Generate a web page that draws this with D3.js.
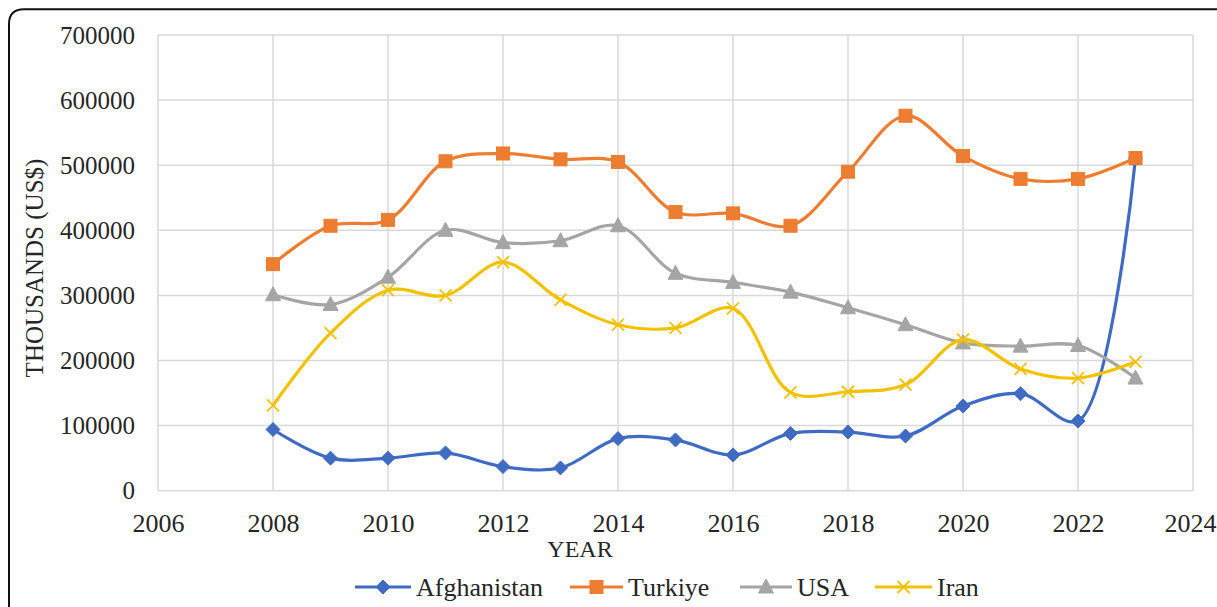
<!DOCTYPE html>
<html>
<head>
<meta charset="utf-8">
<script src="https://cdn.jsdelivr.net/npm/d3@7"></script>
<style>
  html, body { margin: 0; padding: 0; background: #fff; }
  svg { display: block; }
</style>
</head>
<body>
<svg id="chart" width="1217" height="607"></svg>
<script>
// Years on the x axis (2008–2023)
const years = [2008, 2009, 2010, 2011, 2012, 2013, 2014, 2015, 2016, 2017, 2018, 2019, 2020, 2021, 2022, 2023];

// Values in thousands of US$
const afghanistan = [94000, 50000, 50000, 58000, 37000, 35000, 80000, 78000, 55000, 88000, 90000, 84000, 130000, 149000, 107000, 511000];
const turkiye     = [348000, 407000, 416000, 506000, 518000, 509000, 505000, 428000, 426000, 407000, 490000, 576000, 514000, 479000, 479000, 511000];
const usa         = [301000, 286000, 328000, 400000, 381000, 384000, 407000, 334000, 320000, 305000, 281000, 255000, 227000, 222000, 223000, 173000];
const iran        = [131000, 242000, 308000, 300000, 351000, 293000, 255000, 250000, 280000, 151000, 152000, 163000, 232000, 187000, 173000, 198000];

const xTicks = [2006, 2008, 2010, 2012, 2014, 2016, 2018, 2020, 2022, 2024];
const yTicks = [0, 100000, 200000, 300000, 400000, 500000, 600000, 700000];

const seriesNames = ["Afghanistan", "Turkiye", "USA", "Iran"];
const seriesValues = [afghanistan, turkiye, usa, iran];
const seriesColors = ["#3F6BC2", "#ED7D31", "#A5A5A5", "#F2C200"];
const seriesMarkers = ["diamond", "square", "triangle", "cross"];

const FONT = "'Liberation Serif', 'Times New Roman', 'DejaVu Serif', serif";
const INK = "#262626";

const svg = d3.select("#chart");

const x = d3.scaleLinear().domain([2006, 2024]).range([158, 1193]);
const y = d3.scaleLinear().domain([0, 700000]).range([490.7, 35]);

function styleText(sel, size) {
  sel.attr("font-family", FONT)
    .style("font-family", FONT)
    .style("font-size", size + "px")
    .attr("fill", INK);
}

// Card outline: left and top edges with a rounded corner
svg.append("path")
  .attr("d", "M9,607 L9,24 Q9,9.3 24,9.3 L1217,9.3")
  .attr("fill", "none")
  .attr("stroke", "#111")
  .attr("stroke-width", 2);

// Gridlines
const grid = svg.append("g").attr("stroke", "#d9d9d9").attr("stroke-width", 1.5);
grid.selectAll("line.h").data(yTicks).join("line")
  .attr("x1", x(2006)).attr("x2", x(2024))
  .attr("y1", d => y(d)).attr("y2", d => y(d));
grid.selectAll("line.v").data(xTicks).join("line")
  .attr("y1", y(0)).attr("y2", y(700000))
  .attr("x1", d => x(d)).attr("x2", d => x(d));

// Y axis
const yAxis = svg.append("g")
  .attr("transform", `translate(${x(2006)},0)`)
  .call(d3.axisLeft(y).tickValues(yTicks).tickFormat(d3.format("d")).tickSize(0).tickPadding(23));
yAxis.attr("font-family", FONT);
yAxis.select(".domain").remove();
styleText(yAxis.selectAll("text"), 25);

// X axis
const xAxis = svg.append("g")
  .attr("transform", `translate(0,${y(0)})`)
  .call(d3.axisBottom(x).tickValues(xTicks).tickFormat(d3.format("d")).tickSize(0).tickPadding(23));
xAxis.attr("font-family", FONT);
xAxis.select(".domain").remove();
styleText(xAxis.selectAll("text"), 26);
// keep the last label inside the page edge
xAxis.selectAll(".tick").filter(d => d === 2024).select("text")
  .attr("text-anchor", "end").attr("x", 1216 - x(2024));

// Axis titles
styleText(svg.append("text")
  .attr("transform", "translate(43,268) rotate(-90)")
  .attr("text-anchor", "middle")
  .text("THOUSANDS (US$)"), 25);

styleText(svg.append("text")
  .attr("x", 580).attr("y", 557)
  .attr("text-anchor", "middle")
  .text("YEAR"), 24);

// Marker drawing
function drawMarker(g, type, color, cx, cy) {
  if (type === "diamond") {
    g.append("path").attr("d", `M${cx},${cy - 7} L${cx + 7},${cy} L${cx},${cy + 7} L${cx - 7},${cy} Z`)
      .attr("fill", color).attr("stroke", color).attr("stroke-width", 1);
  } else if (type === "square") {
    g.append("rect").attr("x", cx - 6.5).attr("y", cy - 6.5).attr("width", 13).attr("height", 13)
      .attr("fill", color).attr("stroke", color).attr("stroke-width", 1);
  } else if (type === "triangle") {
    g.append("path").attr("d", `M${cx},${cy - 8} L${cx + 7.5},${cy + 6} L${cx - 7.5},${cy + 6} Z`)
      .attr("fill", color).attr("stroke", color).attr("stroke-width", 1);
  } else {
    g.append("path").attr("d", `M${cx - 6},${cy - 6} L${cx + 6},${cy + 6} M${cx - 6},${cy + 6} L${cx + 6},${cy - 6}`)
      .attr("fill", "none").attr("stroke", color).attr("stroke-width", 1.8);
  }
}

// Smoothed series lines with markers
const line = d3.line()
  .x(d => x(d[0]))
  .y(d => y(d[1]))
  .curve(d3.curveCatmullRom.alpha(0.5));

seriesValues.forEach((vals, i) => {
  const pts = years.map((yr, j) => [yr, vals[j]]);
  const g = svg.append("g");
  g.append("path")
    .datum(pts)
    .attr("d", line)
    .attr("fill", "none")
    .attr("stroke", seriesColors[i])
    .attr("stroke-width", 3.2)
    .attr("stroke-linejoin", "round");
  pts.forEach(p => drawMarker(g, seriesMarkers[i], seriesColors[i], x(p[0]), y(p[1])));
});

// Legend
const legendItems = [
  { lx: 355, tx: 416 },
  { lx: 570, tx: 628 },
  { lx: 740, tx: 797 },
  { lx: 875, tx: 937 }
];
const legendY = 587;
seriesNames.forEach((name, i) => {
  const g = svg.append("g");
  const it = legendItems[i];
  g.append("line")
    .attr("x1", it.lx).attr("x2", it.tx - 5)
    .attr("y1", legendY).attr("y2", legendY)
    .attr("stroke", seriesColors[i]).attr("stroke-width", 3.2);
  drawMarker(g, seriesMarkers[i], seriesColors[i], (it.lx + it.tx - 5) / 2, legendY);
  styleText(g.append("text")
    .attr("x", it.tx).attr("y", legendY + 9)
    .text(name), 26);
});
</script>
</body>
</html>
